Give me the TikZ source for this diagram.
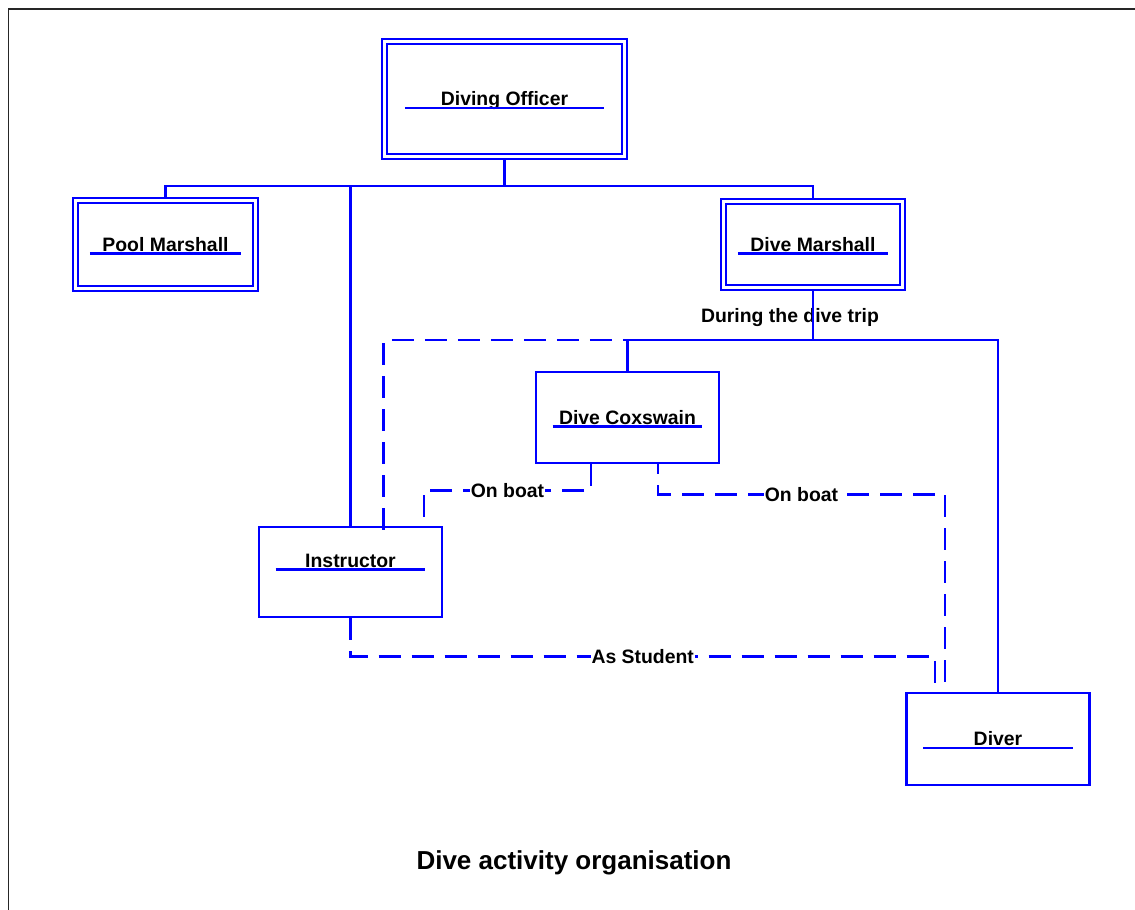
\documentclass[tikz,border=0pt]{standalone}
\usepackage{fontspec}
\setmainfont{Liberation Sans}
\usepackage{tikz}

\begin{document}
\begin{tikzpicture}[x=1pt,y=-1pt,
    post/.style={rectangle,draw=blue,line width=2.6pt,minimum width=183pt,minimum height=91pt,inner sep=0pt,text height=13pt,text depth=0pt,font=\bfseries\fontsize{19.4}{23}\selectfont},
    chief/.style={post,line width=2.3pt,double,double distance=2.6pt,outer sep=3.6pt},
    link/.style={draw=blue,line width=2.6pt},
    trip/.style={link,dash pattern=on 22pt off 11pt},
    tag/.style={fill=white,inner sep=1pt,font=\bfseries\fontsize{19.4}{23}\selectfont}]
    \useasboundingbox (0,0) rectangle (1135,910);
    \draw[line width=1.6pt,black!85] (1135,9) -- (8.5,9) -- (8.5,910);

    \node[chief,minimum width=240pt,minimum height=115pt] (officer) at (504.5,99) {Diving Officer};
    \node[chief,minimum width=180pt,minimum height=88pt] (pool) at (165.5,244.5) {Pool Marshall};
    \node[chief,minimum width=179pt,minimum height=86pt] (marshal) at (813,244.5) {Dive Marshall};
    \node[post] (coxswain) at (627.5,417.5) {Dive Coxswain};
    \node[post,text depth=23pt,minimum height=90pt] (instructor) at (350.5,572) {Instructor};
    \node[post,minimum height=92pt] (diver) at (998,739) {Diver};
    \foreach \n/\d in {officer/24,pool/18,marshal/18,coxswain/18,instructor/18,diver/18}
      \draw[link] ([xshift=\d pt,yshift=-2.5pt]\n.base west) -- ([xshift=-\d pt,yshift=-2.5pt]\n.base east);

    \coordinate (bus) at (504.5,186);
    \coordinate (tripbus) at (813,340);
    \coordinate (tripend) at (755,340);

    % dashed links
    \draw[trip] ([xshift=33pt,yshift=-4pt]instructor.north) |- (tripend);
    \draw[trip] ([xshift=-36.5pt]coxswain.south) -- ++(0,26) -| ([xshift=73.5pt]instructor.north) node[tag,pos=.25] {On boat};
    \draw[trip,dash phase=12pt] ([xshift=30.5pt]coxswain.south) -- ++(0,30) -| ([xshift=-53pt]diver.north) node[tag,pos=.25] {On boat};
    \draw[trip] (instructor.south) -- ++(0,38) -| ([xshift=-63pt]diver.north) node[tag,pos=.25] {As Student};
    \node[tag,fill=none] (triplabel) at (790,317.5) {During the dive trip};

    % solid links
    \draw[link] (officer.south) -- (bus);
    \draw[link] (pool.north) |- (bus) -| (marshal.north);
    \draw[link] (instructor.north) -- (instructor.north |- bus);
    \draw[link] (marshal.south) -- (tripbus);
    \draw[link] (coxswain.north) |- (tripbus) -| (diver.north);

    \node[font=\bfseries\fontsize{26}{30}\selectfont,anchor=base] (caption) at (574,869) {Dive activity organisation};
\end{tikzpicture}
\end{document}
